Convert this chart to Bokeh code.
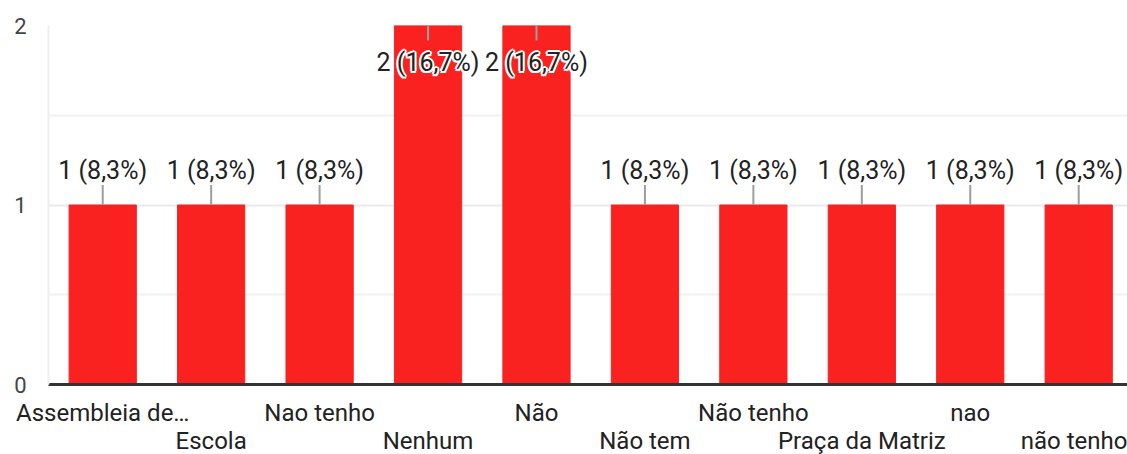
from bokeh.plotting import figure
from bokeh.models import Range1d, FixedTicker, LinearAxis, ColumnDataSource
from bokeh.embed import file_html
from bokeh.resources import INLINE
from bokeh.core.properties import value

# ---- data ----
categories = ["Assembleia de…", "Escola", "Nao tenho", "Nenhum", "Não",
              "Não tem", "Não tenho", "Praça da Matriz", "nao", "não tenho"]
counts = [1, 1, 1, 2, 2, 1, 1, 1, 1, 1]
y_ticks = [0, 1, 2]
y_minor = [0.5, 1.5]

total = sum(counts)
labels = [f"{c} ({c / total * 100:.1f}%)".replace(".", ",") for c in counts]

# ---- style ----
FONT = "Roboto"
RED = "#f92220"
TXT = "#222222"
Y_MAX = 2
PX_PER_UNIT = 179.5

xs = list(range(len(categories)))
lead_up = 20 / PX_PER_UNIT
lead_dn = 15 / PX_PER_UNIT
is_top = [c >= Y_MAX for c in counts]
lead_end = [c - lead_dn if t else c + lead_up for c, t in zip(counts, is_top)]
yoff = [37 if t else -35 for t in is_top]

data = dict(x=xs, count=counts, label=labels, lead_end=lead_end, yoff=yoff)
halo_dirs = [(-2, 0), (2, 0), (0, -2), (0, 2), (-1.5, -1.5), (1.5, -1.5), (-1.5, 1.5), (1.5, 1.5)]
for k, (dx, dy) in enumerate(halo_dirs):
    data[f"hy{k}"] = [o + dy for o in yoff]
src = ColumnDataSource(data)

p = figure(frame_width=1079, frame_height=359, output_backend="svg", toolbar_location=None,
           x_range=Range1d(-0.5, 9.45), y_range=Range1d(0, Y_MAX),
           min_border_left=48, min_border_right=0, min_border_top=25, min_border_bottom=70)
p.outline_line_color = None
p.background_fill_color = "white"
p.border_fill_color = "white"

p.vbar(x="x", top="count", bottom=0, width=0.62, color=RED, source=src)
p.segment(x0="x", y0="count", x1="x", y1="lead_end", line_color="#9e9e9e", line_width=2, source=src)

for k, (dx, dy) in enumerate(halo_dirs):
    p.text(x="x", y="count", text="label", x_offset=dx, y_offset=f"hy{k}",
           text_font=value(FONT), text_font_size="25px", text_color="white",
           text_align="center", text_baseline="middle", source=src)
p.text(x="x", y="count", text="label", y_offset="yoff",
       text_font=value(FONT), text_font_size="25px", text_color=TXT,
       text_align="center", text_baseline="middle", source=src)

# grid
p.xgrid.visible = False
p.ygrid.ticker = FixedTicker(ticks=y_ticks, minor_ticks=y_minor)
p.ygrid.grid_line_color = "#ebebeb"
p.ygrid.grid_line_width = 2
p.ygrid.minor_grid_line_color = "#f1f1f1"
p.ygrid.minor_grid_line_width = 2

# y axis
ya = p.yaxis[0]
ya.ticker = FixedTicker(ticks=y_ticks)
ya.axis_line_color = "#eeeeee"
ya.axis_line_width = 2
ya.major_tick_line_color = None
ya.minor_tick_line_color = None
ya.major_label_standoff = 16
ya.major_label_text_font = FONT
ya.major_label_text_font_size = "22px"
ya.major_label_text_color = "#444444"

# x axes (two staggered rows)
even = [i for i in xs if i % 2 == 0]
odd = [i for i in xs if i % 2 == 1]

xa = p.xaxis[0]
xa.ticker = FixedTicker(ticks=even)
xa.major_label_overrides = {i: categories[i] for i in even}
xa.axis_line_color = "#333333"
xa.axis_line_width = 3
xa.major_tick_line_color = None
xa.minor_tick_line_color = None
xa.major_label_standoff = 8
xa.major_label_text_font = FONT
xa.major_label_text_font_size = "24px"
xa.major_label_text_color = TXT

xb = LinearAxis(ticker=FixedTicker(ticks=odd),
                major_label_overrides={i: categories[i] for i in odd})
xb.axis_line_color = None
xb.major_tick_line_color = None
xb.minor_tick_line_color = None
xb.major_label_standoff = -9
xb.major_label_text_font = FONT
xb.major_label_text_font_size = "24px"
xb.major_label_text_color = TXT
p.add_layout(xb, "below")

open("out.html", "w").write(file_html(p, INLINE))
